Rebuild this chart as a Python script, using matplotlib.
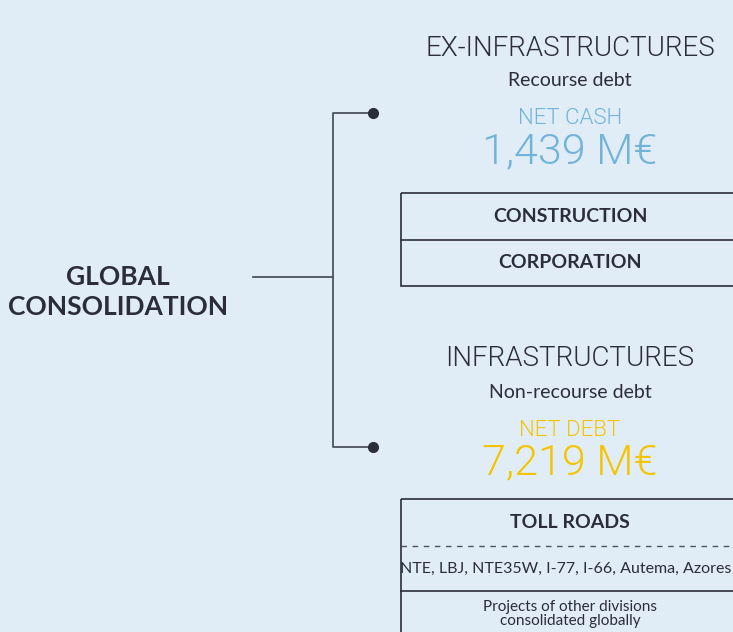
import matplotlib.pyplot as plt
from matplotlib.patches import Rectangle

W, H = 733, 632
BG = "#e1edf6"
INK = "#2b2d3a"
LINE = "#4c5260"

root_label = ["GLOBAL", "CONSOLIDATION"]
branch_titles = ["EX-INFRASTRUCTURES", "INFRASTRUCTURES"]
branch_debt = ["Recourse debt", "Non-recourse debt"]
branch_metric = ["NET CASH", "NET DEBT"]
branch_value = [1439, 7219]
branch_color = ["#72b3da", "#f5c400"]
ex_infra_units = ["CONSTRUCTION", "CORPORATION"]
infra_unit = "TOLL ROADS"
toll_roads = ["NTE", "LBJ", "NTE35W", "I-77", "I-66", "Autema", "Azores"]
other_note = "Projects of other divisions\nconsolidated globally"

plt.rcParams["font.family"] = ["Lato", "DejaVu Sans"]
LIGHT = ["Roboto", "DejaVu Sans"]

fig = plt.figure(figsize=(W / 100, H / 100), dpi=100, facecolor=BG)
ax = fig.add_axes([0, 0, 1, 1])
ax.set_xlim(0, W)
ax.set_ylim(H, 0)
ax.axis("off")
ax.set_facecolor(BG)

# root label and connector
ax.text(118, 277, root_label[0], ha="center", va="center", fontsize=19, fontweight="bold", color=INK)
ax.text(118, 307, root_label[1], ha="center", va="center", fontsize=19, fontweight="bold", color=INK)
ax.plot([253, 333], [277, 277], color=LINE, lw=1.3)
ax.plot([373, 333, 333, 373], [113, 113, 447, 447], color=LINE, lw=1.3)
ax.plot([373, 373], [113, 447], "o", color=INK, ms=7, ls="none")

cx = 570
tops = [48, 359]
for i in range(2):
    y0 = tops[i]
    ax.text(cx, y0, branch_titles[i], ha="center", va="center", fontsize=20, fontweight=300, family=LIGHT, color=INK)
    ax.text(cx, y0 + 33, branch_debt[i], ha="center", va="center", fontsize=14, color=INK)
    ax.text(cx, y0 + 71, branch_metric[i], ha="center", va="center", fontsize=16, fontweight=300, family=LIGHT, color=branch_color[i])
    ax.text(cx, y0 + 104, f"{branch_value[i]:,} M€", ha="center", va="center", fontsize=31, fontweight=300, family=LIGHT, color=branch_color[i])

# ex-infrastructures box
ax.add_patch(Rectangle((401, 193), 400, 93, fill=False, ec=INK, lw=1.2))
ax.plot([401, W], [240, 240], color=INK, lw=1.2)
ax.text(cx, 216, ex_infra_units[0], ha="center", va="center", fontsize=14, fontweight="bold", color=INK)
ax.text(cx, 262, ex_infra_units[1], ha="center", va="center", fontsize=14, fontweight="bold", color=INK)

# infrastructures box
ax.add_patch(Rectangle((401, 499), 400, 200, fill=False, ec=INK, lw=1.2))
ax.text(cx, 522, infra_unit, ha="center", va="center", fontsize=14, fontweight="bold", color=INK)
ax.plot([401, W], [546, 546], color=LINE, lw=1, ls=(0, (4, 4)))
ax.text(566, 569, ", ".join(toll_roads), ha="center", va="center", fontsize=11.5, color=INK)
ax.plot([401, W], [591, 591], color=INK, lw=1.2)
ax.text(cx, 614, other_note, ha="center", va="center", fontsize=11, color=INK, linespacing=0.95)

fig.savefig("out.png", dpi=100, facecolor=BG)
